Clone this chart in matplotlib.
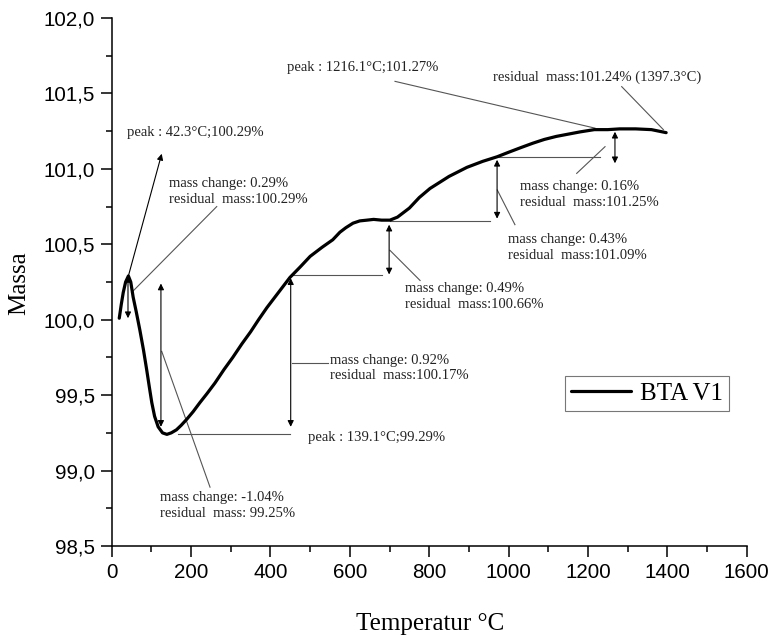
import numpy as np
import matplotlib
matplotlib.use("Agg")
import matplotlib.pyplot as plt
from matplotlib.ticker import MultipleLocator, FuncFormatter

# TG curve
temp = [19, 24, 29, 35, 42, 48, 54, 62, 71, 80, 88, 95, 101, 108, 117, 128, 139,
        150, 163, 175, 189, 205, 222, 240, 260, 283, 305, 328, 350, 370, 391, 420,
        449, 475, 500, 530, 557, 575, 590, 608, 625, 643, 660, 680, 701, 720, 750,
        775, 802, 850, 895, 935, 971, 1000, 1030, 1061, 1090, 1120, 1150, 1180,
        1216, 1250, 1280, 1320, 1360, 1397]
mass = [100.01, 100.10, 100.18, 100.25, 100.29, 100.25, 100.15, 100.05, 99.93,
        99.80, 99.67, 99.55, 99.45, 99.36, 99.29, 99.25, 99.24, 99.25, 99.27, 99.30,
        99.34, 99.39, 99.45, 99.51, 99.58, 99.67, 99.75, 99.84, 99.92, 100.00,
        100.08, 100.18, 100.28, 100.35, 100.42, 100.48, 100.53, 100.58, 100.61,
        100.64, 100.655, 100.66, 100.665, 100.66, 100.66, 100.68, 100.74, 100.81,
        100.87, 100.95, 101.01, 101.05, 101.08, 101.11, 101.14, 101.17, 101.195,
        101.215, 101.23, 101.245, 101.26, 101.26, 101.265, 101.265, 101.26, 101.24]

series_label = "BTA V1"

# double arrows: (T, mass top, mass bottom)
arrows = [(41, 100.29, 100.01), (124, 100.24, 99.29), (451, 100.275, 99.29),
          (699, 100.63, 100.30), (971, 101.06, 100.67), (1268, 101.246, 101.037)]
# reference lines (x0, y0, x1, y1)
ref_lines = [(168, 99.24, 449, 99.24), (453, 100.296, 680, 100.296),
             (701, 100.655, 953, 100.655), (974, 101.08, 1230, 101.08)]
# leader lines
leaders = [(264.6, 100.75, 50, 100.18), (126, 99.79, 247.7, 98.89),
           (453, 99.71, 545.7, 99.71), (701, 100.46, 777, 100.26),
           (971.5, 100.86, 1016, 100.63), (1243, 101.147, 1171.6, 100.97),
           (713.8, 101.58, 1217.6, 101.27), (1285, 101.545, 1390, 101.26)]
# text labels (x, y, text)
notes = [
    (37.8, 101.24, "peak : 42.3°C;100.29%"),
    (145, 100.85, "mass change: 0.29%\nresidual  mass:100.29%"),
    (121.7, 98.77, "mass change: -1.04%\nresidual  mass: 99.25%"),
    (495, 99.22, "peak : 139.1°C;99.29%"),
    (550, 99.68, "mass change: 0.92%\nresidual  mass:100.17%"),
    (739, 100.155, "mass change: 0.49%\nresidual  mass:100.66%"),
    (999, 100.48, "mass change: 0.43%\nresidual  mass:101.09%"),
    (1028.7, 100.83, "mass change: 0.16%\nresidual  mass:101.25%"),
    (442.4, 101.67, "peak : 1216.1°C;101.27%"),
    (961.5, 101.61, "residual  mass:101.24% (1397.3°C)"),
]

serif = ["Liberation Serif", "DejaVu Serif"]
sans = ["Liberation Sans", "DejaVu Sans"]

fig = plt.figure(figsize=(7.71, 6.36), dpi=100)
ax = fig.add_axes([0.1449, 0.1415, 0.8236, 0.8302])

ax.plot(temp, mass, color="black", lw=2.3, label=series_label, zorder=3,
        solid_joinstyle="round", solid_capstyle="round")

for x0, y0, x1, y1 in ref_lines:
    ax.plot([x0, x1], [y0, y1], color="#555555", lw=0.8)
for x0, y0, x1, y1 in leaders:
    ax.plot([x0, x1], [y0, y1], color="#555555", lw=0.8)

for x, top, bot in arrows:
    ax.annotate("", xy=(x, bot), xytext=(x, top),
                arrowprops=dict(arrowstyle="<|-|>", color="black", lw=0.8,
                                mutation_scale=9, shrinkA=0, shrinkB=0))

# arrow from the first peak up to its label
ax.annotate("", xy=(126, 101.10), xytext=(42, 100.29),
            arrowprops=dict(arrowstyle="-|>", color="black", lw=0.8,
                            mutation_scale=9, shrinkA=0, shrinkB=0))

for x, y, s in notes:
    ax.text(x, y, s, family=serif, fontsize=10.5, ha="left", va="center",
            linespacing=1.25, color="#222222")

ax.set_xlim(0, 1600)
ax.set_ylim(98.5, 102.0)
ax.xaxis.set_major_locator(MultipleLocator(200))
ax.xaxis.set_minor_locator(MultipleLocator(100))
ax.yaxis.set_major_locator(MultipleLocator(0.5))
ax.yaxis.set_minor_locator(MultipleLocator(0.25))
ax.yaxis.set_major_formatter(FuncFormatter(lambda v, p: f"{v:.1f}".replace(".", ",")))

ax.spines["top"].set_visible(False)
ax.spines["right"].set_visible(False)
for sp in ("left", "bottom"):
    ax.spines[sp].set_linewidth(1.1)
ax.tick_params(which="major", direction="out", length=8, width=1.1, pad=4, labelsize=14.8)
ax.tick_params(which="minor", direction="out", length=4, width=1.1)
for lab in ax.get_xticklabels() + ax.get_yticklabels():
    lab.set_family(sans)

ax.set_xlabel("Temperatur °C", family=serif, fontsize=18)
ax.set_ylabel("Massa", family=serif, fontsize=18)
ax.xaxis.set_label_coords(0.501, -0.127)
ax.yaxis.set_label_coords(-0.128, 0.498)

leg = ax.legend(loc="upper left", bbox_to_anchor=(0.714, 0.322), borderaxespad=0,
                prop={"family": serif, "size": 18}, handlelength=2.4,
                handletextpad=0.35, borderpad=0.25, fancybox=False, framealpha=1)
leg.get_frame().set_edgecolor("#777777")
leg.get_frame().set_linewidth(0.8)

fig.savefig("out.png", dpi=100)
